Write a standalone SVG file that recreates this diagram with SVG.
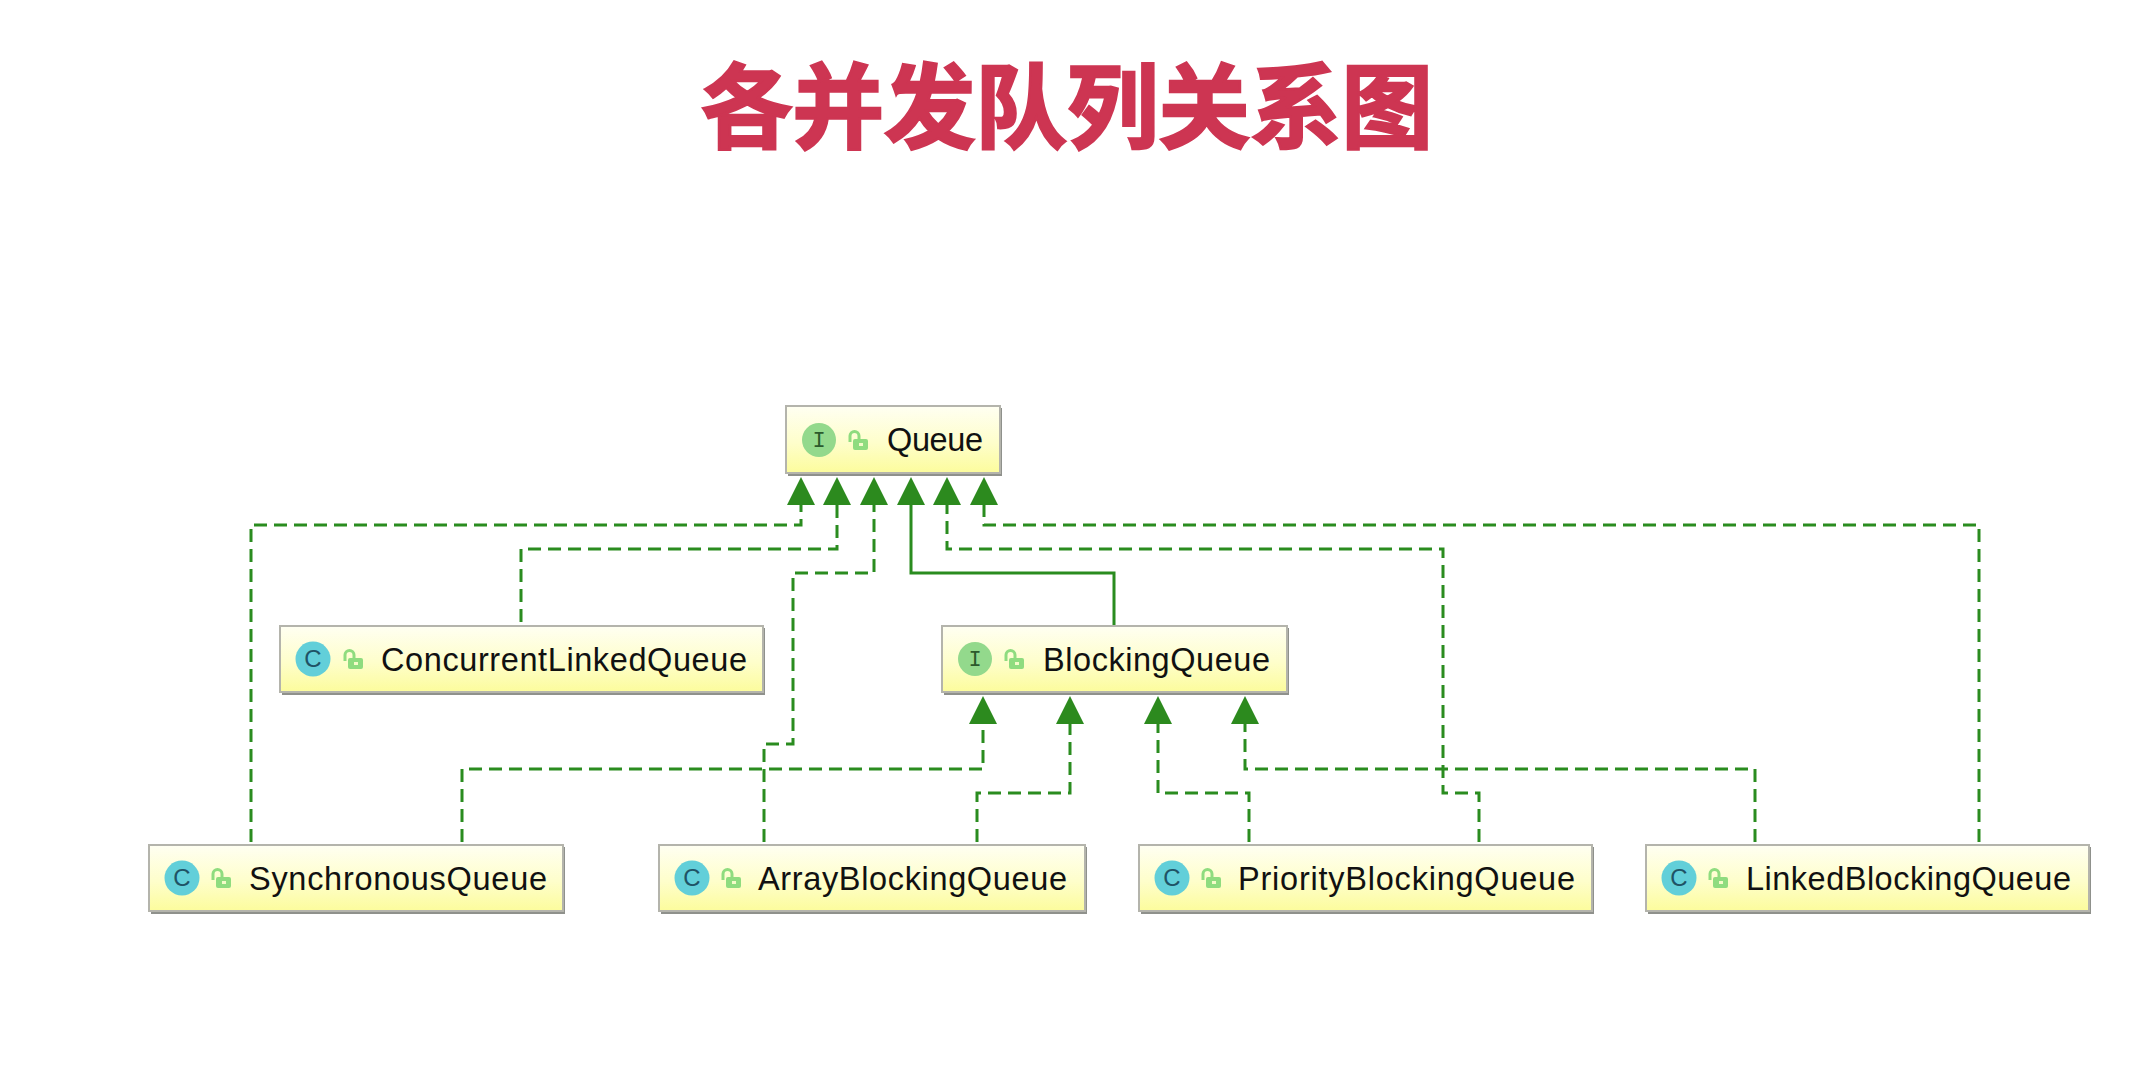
<svg xmlns="http://www.w3.org/2000/svg" width="2134" height="1085" viewBox="0 0 2134 1085">
<style>
.title{font-family:"Noto Sans CJK SC",sans-serif;font-weight:700;font-size:92px;fill:#cd3552;stroke:#cd3552;stroke-width:2.500}
.box{fill:url(#nodeFill);stroke:#b4b4ac;stroke-width:2}
.shadow{fill:#8f918c}
.name{font-family:"Liberation Sans",Arial,sans-serif;font-size:32.500px;fill:#111}
.badge{font-family:"Liberation Mono",monospace;font-size:22px;text-anchor:middle}
.badgec{font-family:"Liberation Sans",Arial,sans-serif;font-size:24px;text-anchor:middle}
.ci{fill:#93d98c}.cc{fill:#62cfd9}
.ti{fill:#2c5a2c}.tc{fill:#1f5366}
.lk{stroke:#2a8c1f;stroke-width:3;fill:none;marker-end:url(#arrow)}
.dash{stroke-dasharray:13 7}
</style>
<defs>
<linearGradient id="nodeFill" x1="0" y1="0" x2="0" y2="1"><stop offset="0" stop-color="#fffff2"/><stop offset="0.55" stop-color="#fefecb"/><stop offset="1" stop-color="#fcfc9c"/></linearGradient>
<marker id="arrow" markerUnits="userSpaceOnUse" markerWidth="30" markerHeight="30" refX="0" refY="14.5" orient="auto" overflow="visible"><path d="M0 0.5L28 14.5L0 28.5Z" fill="#2c8a1e"/></marker>
<g id="lock"><rect x="-5" y="-1" width="15" height="11" rx="2" fill="#8fdc7f"/><path d="M-8 2V-4a4.500 4.500 0 0 1 9 0V0" fill="none" stroke="#8fdc7f" stroke-width="3"/><rect x="1" y="3" width="4" height="3" fill="#f4fbc8"/></g>
</defs>
<rect width="2134" height="1085" fill="#fff"/>
<text class="title" x="701" y="141" textLength="732" lengthAdjust="spacingAndGlyphs">各并发队列关系图</text>
<g id="connectors">
<path class="lk dash" d="M251 842V525H801V505"/>
<path class="lk dash" d="M521 622V549H837V505"/>
<path class="lk dash" d="M764 842V744H793V573H874V505"/>
<path class="lk" d="M1114 625V573H911V505"/>
<path class="lk dash" d="M1479 842V793H1443V549H947V505"/>
<path class="lk dash" d="M1979 842V525H984V505"/>
<path class="lk dash" d="M462 842V769H983V724"/>
<path class="lk dash" d="M977 842V793H1070V724"/>
<path class="lk dash" d="M1249 842V793H1158V724"/>
<path class="lk dash" d="M1755 842V769H1245V724"/>
</g>
<g id="node-queue"><rect class="shadow" x="788" y="408" width="214" height="68"/><rect class="box" x="786" y="406" width="214" height="67"/><circle class="ci" cx="819" cy="440" r="17"/><text class="badge ti" x="819" y="447">I</text><use href="#lock" x="858" y="440"/><text class="name" x="887" y="451" textLength="96">Queue</text></g>
<g id="node-concurrent"><rect class="shadow" x="282" y="628" width="483" height="67"/><rect class="box" x="280" y="626" width="483" height="66"/><circle class="cc" cx="313" cy="659" r="17.500"/><text class="badgec tc" x="313" y="667">C</text><use href="#lock" x="353" y="659"/><text class="name" x="381" y="671" textLength="366">ConcurrentLinkedQueue</text></g>
<g id="node-blocking"><rect class="shadow" x="944" y="628" width="345" height="67"/><rect class="box" x="942" y="626" width="345" height="66"/><circle class="ci" cx="975" cy="659" r="17"/><text class="badge ti" x="975" y="666">I</text><use href="#lock" x="1014" y="659"/><text class="name" x="1043" y="671" textLength="227">BlockingQueue</text></g>
<g id="node-synchronous"><rect class="shadow" x="151" y="847" width="414" height="67"/><rect class="box" x="149" y="845" width="414" height="66"/><circle class="cc" cx="182" cy="878" r="17.500"/><text class="badgec tc" x="182" y="886">C</text><use href="#lock" x="221" y="878"/><text class="name" x="249" y="890" textLength="298">SynchronousQueue</text></g>
<g id="node-array"><rect class="shadow" x="661" y="847" width="426" height="67"/><rect class="box" x="659" y="845" width="426" height="66"/><circle class="cc" cx="692" cy="878" r="17.500"/><text class="badgec tc" x="692" y="886">C</text><use href="#lock" x="731" y="878"/><text class="name" x="758" y="890" textLength="309">ArrayBlockingQueue</text></g>
<g id="node-priority"><rect class="shadow" x="1141" y="847" width="453" height="67"/><rect class="box" x="1139" y="845" width="453" height="66"/><circle class="cc" cx="1172" cy="878" r="17.500"/><text class="badgec tc" x="1172" y="886">C</text><use href="#lock" x="1211" y="878"/><text class="name" x="1238" y="890" textLength="337">PriorityBlockingQueue</text></g>
<g id="node-linked"><rect class="shadow" x="1648" y="847" width="443" height="67"/><rect class="box" x="1646" y="845" width="443" height="66"/><circle class="cc" cx="1679" cy="878" r="17.500"/><text class="badgec tc" x="1679" y="886">C</text><use href="#lock" x="1718" y="878"/><text class="name" x="1746" y="890" textLength="325">LinkedBlockingQueue</text></g>
</svg>
